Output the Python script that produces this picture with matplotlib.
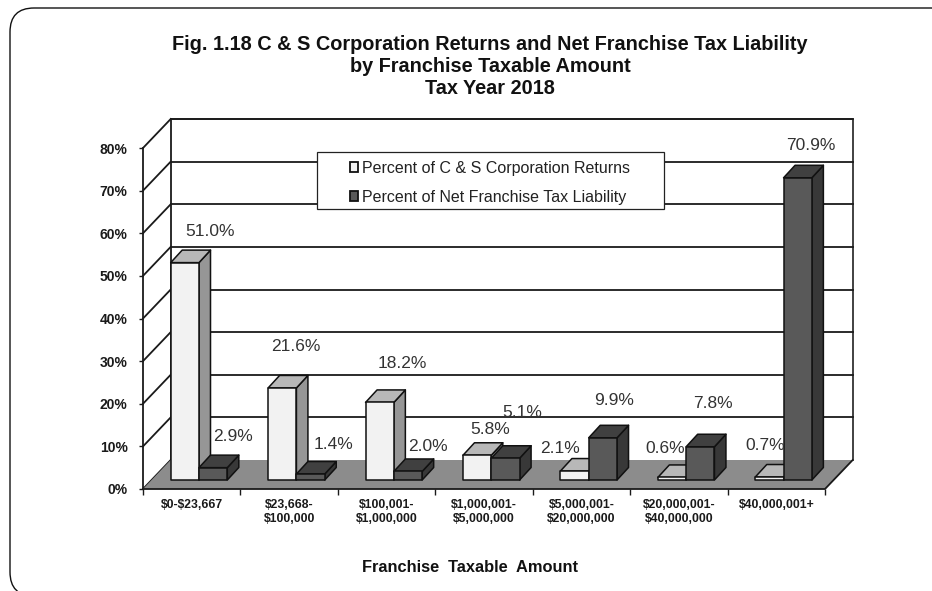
import matplotlib
matplotlib.use('Agg')
import matplotlib.pyplot as plt
from matplotlib.patches import Polygon, FancyBboxPatch, Rectangle

categories = ['\\$0-\\$23,667', '\\$23,668-\n\\$100,000', '\\$100,001-\n\\$1,000,000',
              '\\$1,000,001-\n\\$5,000,000', '\\$5,000,001-\n\\$20,000,000',
              '\\$20,000,001-\n\\$40,000,000', '\\$40,000,001+']
returns_pct = [51.0, 21.6, 18.2, 5.8, 2.1, 0.6, 0.7]
liability_pct = [2.9, 1.4, 2.0, 5.1, 9.9, 7.8, 70.9]
y_ticks = [0, 10, 20, 30, 40, 50, 60, 70, 80]
legend_labels = ['Percent of C & S Corporation Returns', 'Percent of Net Franchise Tax Liability']

W, H = 932, 591
# front plane of the 3d box in pixels
X0, X1, Y0, Y1 = 143, 825, 489, 148
PX_CAT = (X1 - X0) / 7
PX_PCT = (Y0 - Y1) / 80

# depth offsets, converted to data units
WALL_DX, WALL_DY = 27.7 / PX_CAT, 29 / PX_PCT
BAR_DX, BAR_DY = 11.5 / PX_CAT, 12.5 / PX_PCT
BASE_DX, BASE_DY = 8.5 / PX_CAT, 9 / PX_PCT
BAR_W = 28.3 / PX_CAT
BAR_GAP = 19.2 / PX_CAT

plt.rcParams['font.family'] = ['Liberation Sans', 'DejaVu Sans']

fig = plt.figure(figsize=(W / 100, H / 100), dpi=100)

# rounded frame behind everything, runs off the right and bottom
bg = fig.add_axes([0, 0, 1, 1])
bg.set_xlim(0, W)
bg.set_ylim(H, 0)
bg.axis('off')
bg.add_patch(FancyBboxPatch((10, 8), 945, 588, boxstyle='round,pad=0,rounding_size=24',
                            fc='white', ec='#111111', lw=1.0))

ax = fig.add_axes([X0 / W, 1 - Y0 / H, (X1 - X0) / W, (Y0 - Y1) / H])
ax.set_xlim(0, 7)
ax.set_ylim(0, 80)
ax.patch.set_visible(False)
for s in ax.spines.values():
    s.set_visible(False)

LINE = '#1a1a1a'
# back wall and side wall lines
ax.plot([WALL_DX, 7 + WALL_DX, 7 + WALL_DX], [80 + WALL_DY, 80 + WALL_DY, WALL_DY],
        color='#333333', lw=1.3, clip_on=False, zorder=2)
for v in y_ticks:
    ax.plot([0, WALL_DX], [v, v + WALL_DY], color=LINE, lw=1.3, clip_on=False, zorder=2)
    if v > 0:
        ax.plot([WALL_DX, 7 + WALL_DX], [v + WALL_DY, v + WALL_DY], color=LINE, lw=1.3,
                clip_on=False, zorder=2)
ax.plot([WALL_DX, WALL_DX], [WALL_DY, 80 + WALL_DY], color=LINE, lw=1.3, clip_on=False, zorder=2)
ax.plot([0, 0], [0, 80], color=LINE, lw=1.3, clip_on=False, zorder=2)

# floor
ax.add_patch(Polygon([(0, 0), (7, 0), (7 + WALL_DX, WALL_DY), (WALL_DX, WALL_DY)],
                     closed=True, fc='#8c8c8c', ec='none', clip_on=False, zorder=3))
ax.plot([0, 7, 7 + WALL_DX], [0, 0, WALL_DY], color=LINE, lw=1.3, clip_on=False, zorder=4)


def draw_bar(x, h, front, top, side, z):
    b = BASE_DY
    kw = dict(closed=True, ec='#111111', lw=1.1, clip_on=False, zorder=z, joinstyle='round')
    ax.add_patch(Polygon([(x + BAR_W, b), (x + BAR_W + BAR_DX, b + BAR_DY),
                          (x + BAR_W + BAR_DX, b + h + BAR_DY), (x + BAR_W, b + h)], fc=side, **kw))
    ax.add_patch(Polygon([(x, b + h), (x + BAR_W, b + h),
                          (x + BAR_W + BAR_DX, b + h + BAR_DY), (x + BAR_DX, b + h + BAR_DY)], fc=top, **kw))
    ax.add_patch(Polygon([(x, b), (x + BAR_W, b), (x + BAR_W, b + h), (x, b + h)], fc=front, **kw))


for i in range(7):
    x = i + BASE_DX + BAR_GAP
    draw_bar(x, returns_pct[i], '#f2f2f2', '#b8b8b8', '#969696', 5 + i * 2)
    draw_bar(x + BAR_W, liability_pct[i], '#595959', '#404040', '#383838', 6 + i * 2)

# value labels: pixel offset of each label from the top-left of its bar
ret_off = [(39, -31), (28, -41), (37, -39), (27, -26), (0, -23), (7, -29), (10, -32)]
lia_off = [(34, -31), (37, -30), (34, -25), (31, -46), (25, -37), (27, -43), (27, -32)]
for i in range(7):
    xr = i + BASE_DX + BAR_GAP
    for x, h, off in [(xr, returns_pct[i], ret_off[i]), (xr + BAR_W, liability_pct[i], lia_off[i])]:
        ax.annotate(f'{h:.1f}%', xy=(x, BASE_DY + h), xytext=(off[0] * 0.72, -off[1] * 0.72),
                    textcoords='offset points', ha='center', va='center', fontsize=12.5,
                    color='#333333', annotation_clip=False, zorder=30)

# legend: frame off, box drawn separately because the padding is uneven
leg = ax.legend(handles=[Rectangle((0, 0), 1, 1, fc='#f2f2f2', ec='#111111', lw=1.3),
                         Rectangle((0, 0), 1, 1, fc='#595959', ec='#111111', lw=1.3)],
                labels=legend_labels, loc='upper left',
                bbox_to_anchor=((350 - X0) / (X1 - X0), (Y0 - 161) / (Y0 - Y1)),
                borderaxespad=0, borderpad=0, frameon=False, fontsize=11.5, labelcolor='#222222',
                handlelength=0.5, handleheight=0.6, handletextpad=0.25, labelspacing=0.88)
leg.set_zorder(40)

# the wall lines pass behind the legend box
box = Rectangle(((317 - X0) / PX_CAT, (Y0 - 209) / PX_PCT), 347 / PX_CAT, 57 / PX_PCT, fc='white',
                ec='#222222', lw=0.9, clip_on=False, zorder=3)
ax.add_patch(box)

ax.set_xticks(range(8))
ax.set_xticklabels([])
ax.set_xticks([i + 0.5 for i in range(7)], minor=True)
ax.set_xticklabels(categories, minor=True, fontsize=8.8, fontweight='bold', color='#1a1a1a', linespacing=1.15)
ax.tick_params(axis='x', which='major', length=4, width=1, color=LINE)
ax.tick_params(axis='x', which='minor', length=0, pad=7.5)
ax.set_yticks(y_ticks)
ax.set_yticklabels([f'{v}%' for v in y_ticks], fontsize=10, fontweight='bold', color='#1a1a1a')
ax.tick_params(axis='y', length=3, width=1, color=LINE, pad=8)

fig.text(490 / W, 1 - 45 / H, 'Fig. 1.18 C & S Corporation Returns and Net Franchise Tax Liability',
         ha='center', va='center', fontsize=14.3, fontweight='bold', color='#111111')
fig.text(490 / W, 1 - 67 / H, 'by Franchise Taxable Amount', ha='center', va='center',
         fontsize=14.3, fontweight='bold', color='#111111')
fig.text(490 / W, 1 - 89 / H, 'Tax Year 2018', ha='center', va='center',
         fontsize=14.3, fontweight='bold', color='#111111')
fig.text(470 / W, 1 - 567 / H, 'Franchise  Taxable  Amount', ha='center', va='center',
         fontsize=11.8, fontweight='bold', color='#111111')

fig.savefig('out.png', dpi=100)
